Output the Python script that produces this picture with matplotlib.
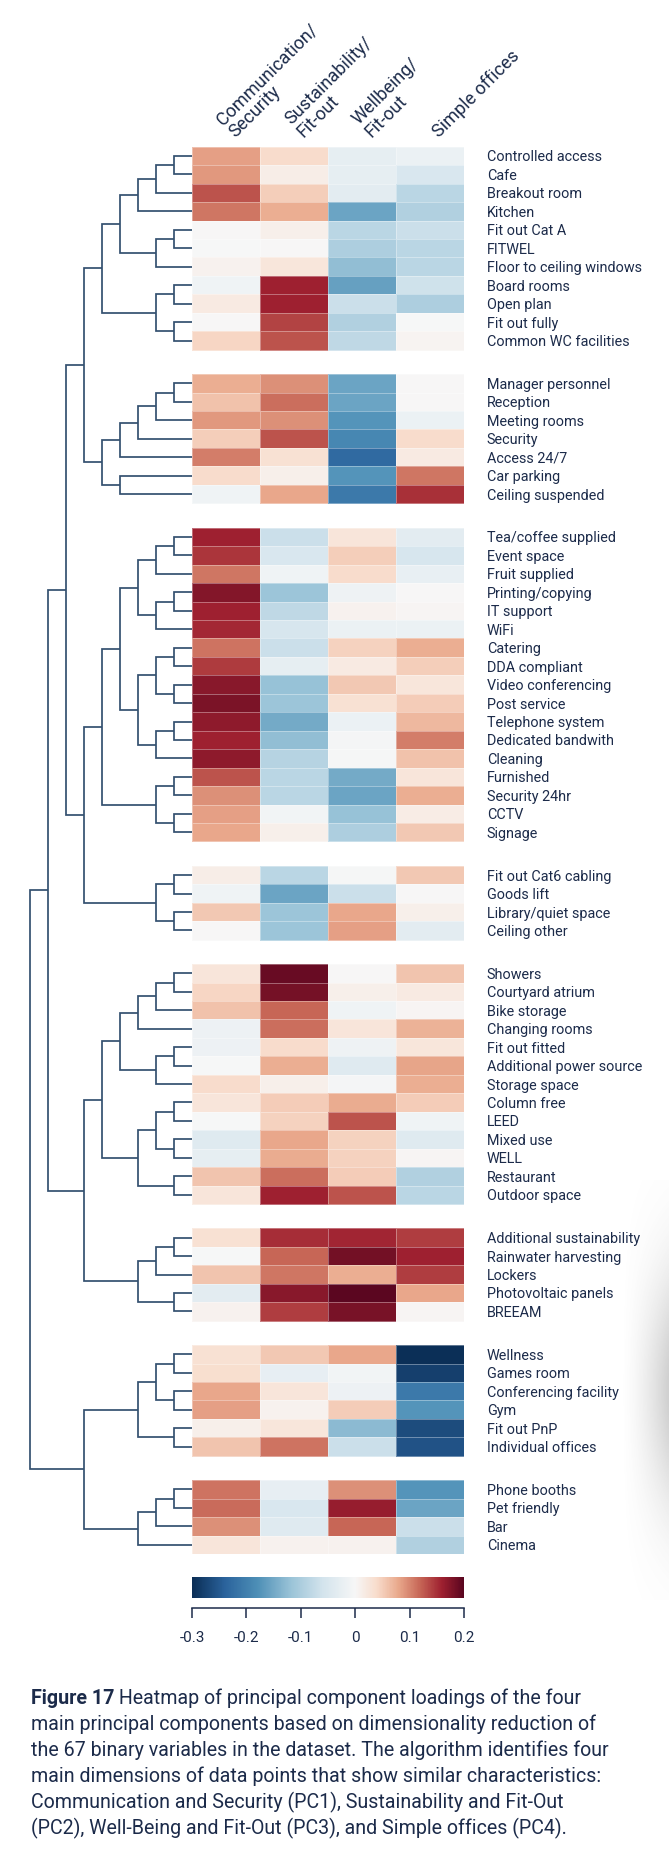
import numpy as np
import matplotlib
matplotlib.use("Agg")
import matplotlib.pyplot as plt
from matplotlib.colors import TwoSlopeNorm, ListedColormap

plt.rcParams['font.family'] = ['Roboto', 'DejaVu Sans']

# --- data ---------------------------------------------------------------
features = [
    "Controlled access", "Cafe", "Breakout room", "Kitchen", "Fit out Cat A",
    "FITWEL", "Floor to ceiling windows", "Board rooms", "Open plan",
    "Fit out fully", "Common WC facilities",
    "Manager personnel", "Reception", "Meeting rooms", "Security",
    "Access 24/7", "Car parking", "Ceiling suspended",
    "Tea/coffee supplied", "Event space", "Fruit supplied", "Printing/copying",
    "IT support", "WiFi", "Catering", "DDA compliant", "Video conferencing",
    "Post service", "Telephone system", "Dedicated bandwith", "Cleaning",
    "Furnished", "Security 24hr", "CCTV", "Signage",
    "Fit out Cat6 cabling", "Goods lift", "Library/quiet space", "Ceiling other",
    "Showers", "Courtyard atrium", "Bike storage", "Changing rooms",
    "Fit out fitted", "Additional power source", "Storage space",
    "Column free", "LEED", "Mixed use", "WELL", "Restaurant", "Outdoor space",
    "Additional sustainability", "Rainwater harvesting", "Lockers",
    "Photovoltaic panels", "BREEAM",
    "Wellness", "Games room", "Conferencing facility", "Gym", "Fit out PnP",
    "Individual offices",
    "Phone booths", "Pet friendly", "Bar", "Cinema",
]
group_sizes = [11, 7, 17, 4, 13, 5, 6, 4]

components = ["Communication/\nSecurity", "Sustainability/\nFit-out",
              "Wellbeing/\nFit-out", "Simple offices"]

comm_security = [
    0.085, 0.09, 0.13, 0.11, 0.0, -0.002, 0.008, -0.012, 0.02, 0.0, 0.045,
    0.075, 0.06, 0.09, 0.05, 0.105, 0.04, -0.012,
    0.16, 0.148, 0.11, 0.176, 0.16, 0.156, 0.112, 0.145, 0.172, 0.18, 0.17,
    0.16, 0.17, 0.13, 0.095, 0.085, 0.08,
    0.015, -0.012, 0.055, 0.0,
    0.028, 0.045, 0.06, -0.018, -0.018, -0.002, 0.04, 0.028, -0.002, -0.042,
    -0.03, 0.058, 0.028,
    0.033, -0.002, 0.058, -0.035, 0.008,
    0.033, 0.036, 0.08, 0.085, 0.012, 0.058,
    0.112, 0.116, 0.095, 0.028,
]
sustain_fitout = [
    0.04, 0.015, 0.05, 0.075, 0.012, 0.0, 0.025, 0.16, 0.16, 0.14, 0.13,
    0.095, 0.115, 0.095, 0.13, 0.033, 0.012, 0.08,
    -0.07, -0.05, -0.012, -0.115, -0.08, -0.055, -0.07, -0.03, -0.12, -0.115,
    -0.15, -0.125, -0.09, -0.085, -0.085, -0.01, 0.012,
    -0.085, -0.155, -0.115, -0.115,
    0.192, 0.184, 0.12, 0.115, 0.04, 0.075, 0.012, 0.052, 0.048, 0.08, 0.077,
    0.115, 0.16,
    0.152, 0.12, 0.11, 0.172, 0.143,
    0.056, -0.028, 0.028, 0.008, 0.025, 0.112,
    -0.028, -0.05, -0.04, 0.008,
]
wellbeing_fitout = [
    -0.03, -0.03, -0.035, -0.155, -0.085, -0.1, -0.125, -0.16, -0.07, -0.095,
    -0.08,
    -0.155, -0.155, -0.175, -0.19, -0.23, -0.175, -0.21,
    0.028, 0.05, 0.04, -0.015, 0.008, -0.02, 0.048, 0.02, 0.056, 0.033,
    -0.02, -0.006, -0.003, -0.15, -0.155, -0.12, -0.1,
    -0.003, -0.07, 0.08, 0.085,
    0.0, 0.012, -0.012, 0.028, -0.016, -0.04, -0.005, 0.078, 0.13, 0.048,
    0.048, 0.052, 0.13,
    0.157, 0.185, 0.075, 0.2, 0.182,
    0.08, -0.01, -0.018, 0.052, -0.13, -0.07,
    0.095, 0.165, 0.12, 0.008,
]
simple_offices = [
    -0.02, -0.05, -0.085, -0.095, -0.07, -0.085, -0.085, -0.065, -0.1, -0.002,
    0.005,
    0.0, 0.0, -0.02, 0.04, 0.02, 0.11, 0.15,
    -0.035, -0.055, -0.025, 0.0, 0.004, -0.02, 0.075, 0.05, 0.025, 0.052,
    0.068, 0.105, 0.06, 0.028, 0.075, 0.016, 0.056,
    0.056, 0.0, 0.012, -0.035,
    0.058, 0.02, 0.004, 0.072, 0.025, 0.082, 0.075, 0.052, -0.012, -0.042,
    0.004, -0.095, -0.085,
    0.143, 0.16, 0.143, 0.08, 0.004,
    -0.3, -0.28, -0.21, -0.175, -0.265, -0.26,
    -0.175, -0.157, -0.07, -0.095,
]

# row dendrogram: (merge level, left, right), leaves are row indices
g1 = (5, (4, (3, (2, (1, 0, 1), 2), 3), (2, (1, 4, 5), 6)),
      (2, (1, 7, 8), (1, 9, 10)))
g2 = (5, (4, (3, (2, (1, 11, 12), 13), 14), 15), (4, 16, 17))
g3 = (5, (4, (3, (2, (1, 18, 19), 20), (2, (1, 21, 22), 23)),
          (3, (2, (1, 24, 25), (1, 26, 27)), (2, (1, 28, 29), 30))),
      (2, (1, 31, 32), (1, 33, 34)))
g4 = (2, (1, 35, 36), (1, 37, 38))
g5 = (5, (4, (3, (2, (1, 39, 40), 41), 42), (2, (1, 43, 44), 45)),
      (3, (2, (1, 46, 47), (1, 48, 49)), (1, 50, 51)))
g6 = (3, (2, (1, 52, 53), 54), (1, 55, 56))
g7 = (3, (2, (1, 57, 58), (1, 59, 60)), (1, 61, 62))
g8 = (3, (2, (1, 63, 64), 65), 66)
tree = (9, (8, (7, (6, g1, g2), (6, g3, g4)), (6, g5, g6)), (6, g7, g8))

cbar_ticks = [-0.3, -0.2, -0.1, 0, 0.1, 0.2]

caption_lines = [
    "Heatmap of principal component loadings of the four",
    "main principal components based on dimensionality reduction of",
    "the 67 binary variables in the dataset. The algorithm identifies four",
    "main dimensions of data points that show similar characteristics:",
    "Communication and Security (PC1), Sustainability and Fit-Out",
    "(PC2), Well-Being and Fit-Out (PC3), and Simple offices (PC4).",
]

# --- layout -------------------------------------------------------------
W, H = 669, 1866
navy = '#1c2b4a'
line_col = '#33506f'
gap = 1.32

values = np.array([comm_security, sustain_fitout, wellbeing_fitout,
                   simple_offices]).T
norm = TwoSlopeNorm(vmin=-0.3, vcenter=0, vmax=0.2)

# RdBu_r, toned down a little like the printed figure
base = plt.get_cmap('RdBu_r')(np.linspace(0, 1, 256))[:, :3]
lum = (base @ np.array([0.3, 0.59, 0.11]))[:, None]
muted = base * 0.82 + lum * 0.18
cmap = ListedColormap(muted)

fig = plt.figure(figsize=(W / 100, H / 100), dpi=100)
fig.patch.set_facecolor('white')


def frame(x0, y0, x1, y1):
    return [x0 / W, 1 - y1 / H, (x1 - x0) / W, (y1 - y0) / H]


top, bottom = 146.7, 1554
ax = fig.add_axes(frame(192, top, 464, bottom))
axd = fig.add_axes(frame(21, top, 192, bottom), sharey=ax)

total = len(features) + gap * (len(group_sizes) - 1)
row_y = []
start = 0
r = 0
for k, n in enumerate(group_sizes):
    y0 = start
    block = values[r:r + n]
    ax.pcolormesh(np.arange(5), y0 + np.arange(n + 1), block, cmap=cmap,
                  norm=norm, edgecolors=(1, 1, 1, 0.35), linewidth=0.5)
    row_y += list(y0 + np.arange(n) + 0.5)
    r += n
    start = y0 + n + gap

ax.set_xlim(0, 4)
ax.set_ylim(total, 0)
ax.set_xticks([])
ax.yaxis.tick_right()
ax.set_yticks(row_y)
ax.set_yticklabels(features, fontsize=10.4, color=navy)
ax.tick_params(axis='y', length=0, pad=16.5)
for s in ax.spines.values():
    s.set_visible(False)

for j, name in enumerate(components):
    ax.annotate(name, xy=(j + 0.5, 0), xycoords='data',
                xytext=(9, 4), textcoords='offset points',
                rotation=45, ha='left', va='bottom', rotation_mode='anchor',
                fontsize=13, color=navy, linespacing=1.0,
                annotation_clip=False)


# dendrogram
def draw(node):
    if not isinstance(node, tuple):
        return 0.0, row_y[node]
    h, a, b = node
    ha_, ya = draw(a)
    hb, yb = draw(b)
    axd.plot([ha_, h, h, hb], [ya, ya, yb, yb], color=line_col, lw=1.25,
             solid_capstyle='butt', solid_joinstyle='miter')
    return h, (ya + yb) / 2


draw(tree)
axd.set_xlim(9.5, 0)
axd.axis('off')

# colour key
axc = fig.add_axes(frame(192, 1576.7, 464, 1598.3))
grad = np.linspace(-0.3, 0.2, 400)[None, :]
axc.imshow(grad, cmap=cmap, norm=norm, aspect='auto',
           extent=(-0.3, 0.2, 0, 1))
axc.set_axis_off()

axt = fig.add_axes(frame(192, 1608, 464, 1608.01))
axt.set_xlim(-0.3, 0.2)
axt.set_xticks(cbar_ticks)
axt.set_xticklabels(['-0.3', '-0.2', '-0.1', '0', '0.1', '0.2'],
                    fontsize=11, color=navy)
axt.tick_params(axis='x', length=7.2, width=1.1, color=navy, pad=9.5,
                direction='out')
axt.set_yticks([])
for s in ('top', 'left', 'right'):
    axt.spines[s].set_visible(False)
axt.spines['bottom'].set_color(navy)
axt.spines['bottom'].set_linewidth(1.1)

# caption
cap_fs = 14.1
x_cap = 30.7 / W
y0 = 1698.3
bold = fig.text(x_cap, 1 - y0 / H, "Figure 17", fontsize=cap_fs,
                weight='bold', color=navy, va='center', ha='left')
fig.canvas.draw()
bb = bold.get_window_extent(renderer=fig.canvas.get_renderer())
fig.text(bb.x1 / W, 1 - y0 / H, " " + caption_lines[0], fontsize=cap_fs,
         color=navy, va='center', ha='left')
for i, line in enumerate(caption_lines[1:], start=1):
    fig.text(x_cap, 1 - (y0 + 26 * i) / H, line, fontsize=cap_fs,
             color=navy, va='center', ha='left')

# soft page shadow at the right edge of the scan
axs = fig.add_axes(frame(600, 1180, 669, 1600))
xx, yy = np.meshgrid(np.linspace(0, 1, 70), np.linspace(0, 1, 200))
alpha = 0.32 * np.clip((xx - 0.3) / 0.7, 0, 1) ** 1.5 \
    * np.exp(-((yy - 0.5) / 0.28) ** 2)
shade = np.zeros((200, 70, 4))
shade[..., :3] = 0.42
shade[..., 3] = alpha
axs.imshow(shade, aspect='auto', extent=(0, 1, 0, 1))
axs.set_axis_off()

fig.savefig('out.png', dpi=100)
